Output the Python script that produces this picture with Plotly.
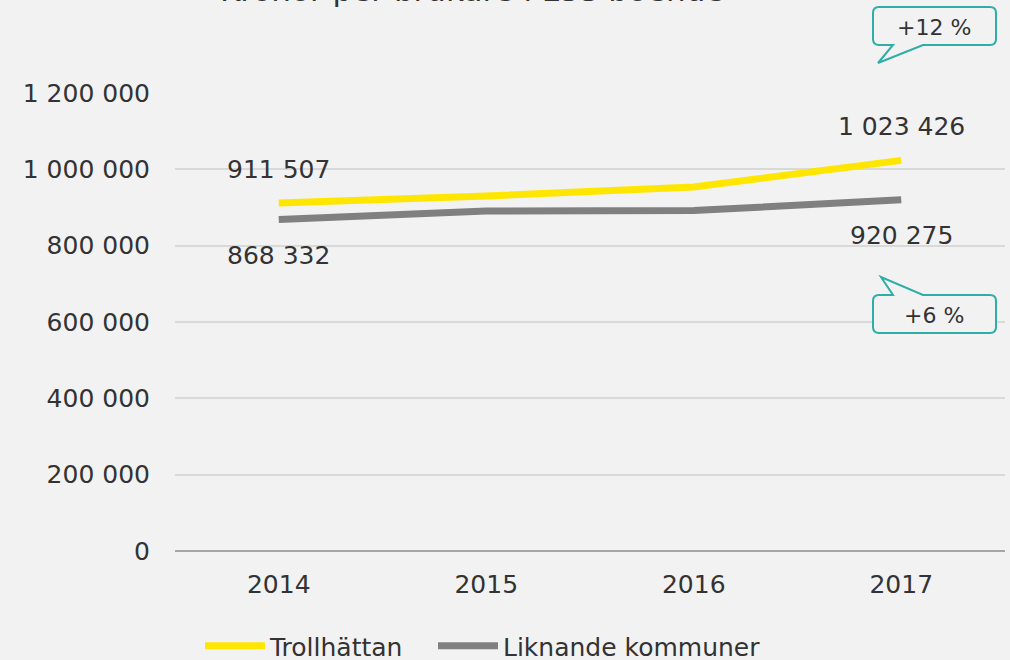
import plotly.graph_objects as go

# Data
years = ["2014", "2015", "2016", "2017"]
trollhattan = [911507, 930000, 954000, 1023426]
liknande = [868332, 891000, 892000, 920275]
y_ticks = [0, 200000, 400000, 600000, 800000, 1000000, 1200000]

title_text = "Kronor per brukare i LSS boende"
change_troll = "+12 %"
change_likn = "+6 %"

W, H = 1010, 660
L, R, T, B = 175, 1005, 93, 551   # plot area in pixels

BG = "#f2f2f2"
TXT = "#333333"
FONT = "DejaVu Sans"
YELLOW = "#ffe600"
GREY = "#808080"
TEAL = "#2eaea6"


def px(x):
    return (x - L) / (R - L)


def py(y):
    return (B - y) / (B - T)


def bubble(x0, y0, x1, y1, tail, tail_on_top, r=6):
    """Rounded rectangle with a triangular tail, as a paper-space SVG path."""
    ta, tip, tb = tail

    def P(x, y):
        return f"{px(x):.5f},{py(y):.5f}"

    d = f"M {P(x0 + r, y0)} "
    if tail_on_top:
        d += f"L {P(ta, y0)} L {P(*tip)} L {P(tb, y0)} "
    d += f"L {P(x1 - r, y0)} Q {P(x1, y0)} {P(x1, y0 + r)} "
    d += f"L {P(x1, y1 - r)} Q {P(x1, y1)} {P(x1 - r, y1)} "
    if not tail_on_top:
        d += f"L {P(tb, y1)} L {P(*tip)} L {P(ta, y1)} "
    d += f"L {P(x0 + r, y1)} Q {P(x0, y1)} {P(x0, y1 - r)} "
    d += f"L {P(x0, y0 + r)} Q {P(x0, y0)} {P(x0 + r, y0)} Z"
    return d


fig = go.Figure()
fig.add_trace(go.Scatter(x=years, y=trollhattan, mode="lines", name="Trollhättan",
                         line=dict(color=YELLOW, width=7), legend="legend"))
fig.add_trace(go.Scatter(x=years, y=liknande, mode="lines", name="Liknande kommuner",
                         line=dict(color=GREY, width=7), legend="legend2"))

fmt = lambda v: f"{v:,}".replace(",", " ")
lab_font = dict(family=FONT, size=25, color=TXT)
annotations = [
    dict(x=0, y=trollhattan[0], text=fmt(trollhattan[0]), yshift=34),
    dict(x=0, y=liknande[0], text=fmt(liknande[0]), yshift=-36),
    dict(x=3, y=trollhattan[3], text=fmt(trollhattan[3]), yshift=34),
    dict(x=3, y=liknande[3], text=fmt(liknande[3]), yshift=-36),
]
for a in annotations:
    a.update(xref="x", yref="y", showarrow=False, font=lab_font,
             xanchor="center", yanchor="middle")

# percent-change callouts and the title
annotations += [
    dict(xref="paper", yref="paper", x=px(934), y=py(27), text=change_troll,
         showarrow=False, xanchor="center", yanchor="middle",
         font=dict(family=FONT, size=22, color=TXT)),
    dict(xref="paper", yref="paper", x=px(934), y=py(315), text=change_likn,
         showarrow=False, xanchor="center", yanchor="middle",
         font=dict(family=FONT, size=22, color=TXT)),
    dict(xref="paper", yref="paper", x=px(472), y=py(-30), text=title_text,
         showarrow=False, xanchor="center", yanchor="top",
         font=dict(family=FONT, size=31, color=TXT)),
]

shapes = [
    dict(type="path", xref="paper", yref="paper", layer="above",
         path=bubble(873, 7, 996, 45, (893, (878, 63), 923), False),
         line=dict(color=TEAL, width=2), fillcolor=BG),
    dict(type="path", xref="paper", yref="paper", layer="above",
         path=bubble(873, 295, 996, 333, (893, (881, 277), 923), True),
         line=dict(color=TEAL, width=2), fillcolor=BG),
]

legend_common = dict(orientation="h", xref="container", yref="container",
                     y=14 / H, xanchor="left", yanchor="middle",
                     font=dict(family=FONT, size=25, color=TXT),
                     bgcolor="rgba(0,0,0,0)", itemwidth=60)

fig.update_layout(
    width=W, height=H,
    margin=dict(l=L, r=W - R, t=T, b=H - B),
    paper_bgcolor=BG, plot_bgcolor=BG,
    separators=", ",
    font=dict(family=FONT, size=25, color=TXT),
    showlegend=True,
    legend=dict(x=200 / W, **legend_common),
    legend2=dict(x=433 / W, **legend_common),
    annotations=annotations,
    shapes=shapes,
)
fig.update_xaxes(range=[-0.5, 3.5], showgrid=False,
                 showline=False, zeroline=False, ticks="",
                 tickfont=dict(family=FONT, size=25, color=TXT),
                 ticklabelstandoff=16)
fig.update_yaxes(range=[0, 1200000], tickvals=y_ticks, tickformat=",d",
                 showgrid=True, gridcolor="#d9d9d9", gridwidth=1.5,
                 zeroline=True, zerolinecolor="#a6a6a6", zerolinewidth=2,
                 showline=False, ticks="",
                 tickfont=dict(family=FONT, size=25, color=TXT),
                 ticklabelstandoff=24)

fig.write_html("out.html")
